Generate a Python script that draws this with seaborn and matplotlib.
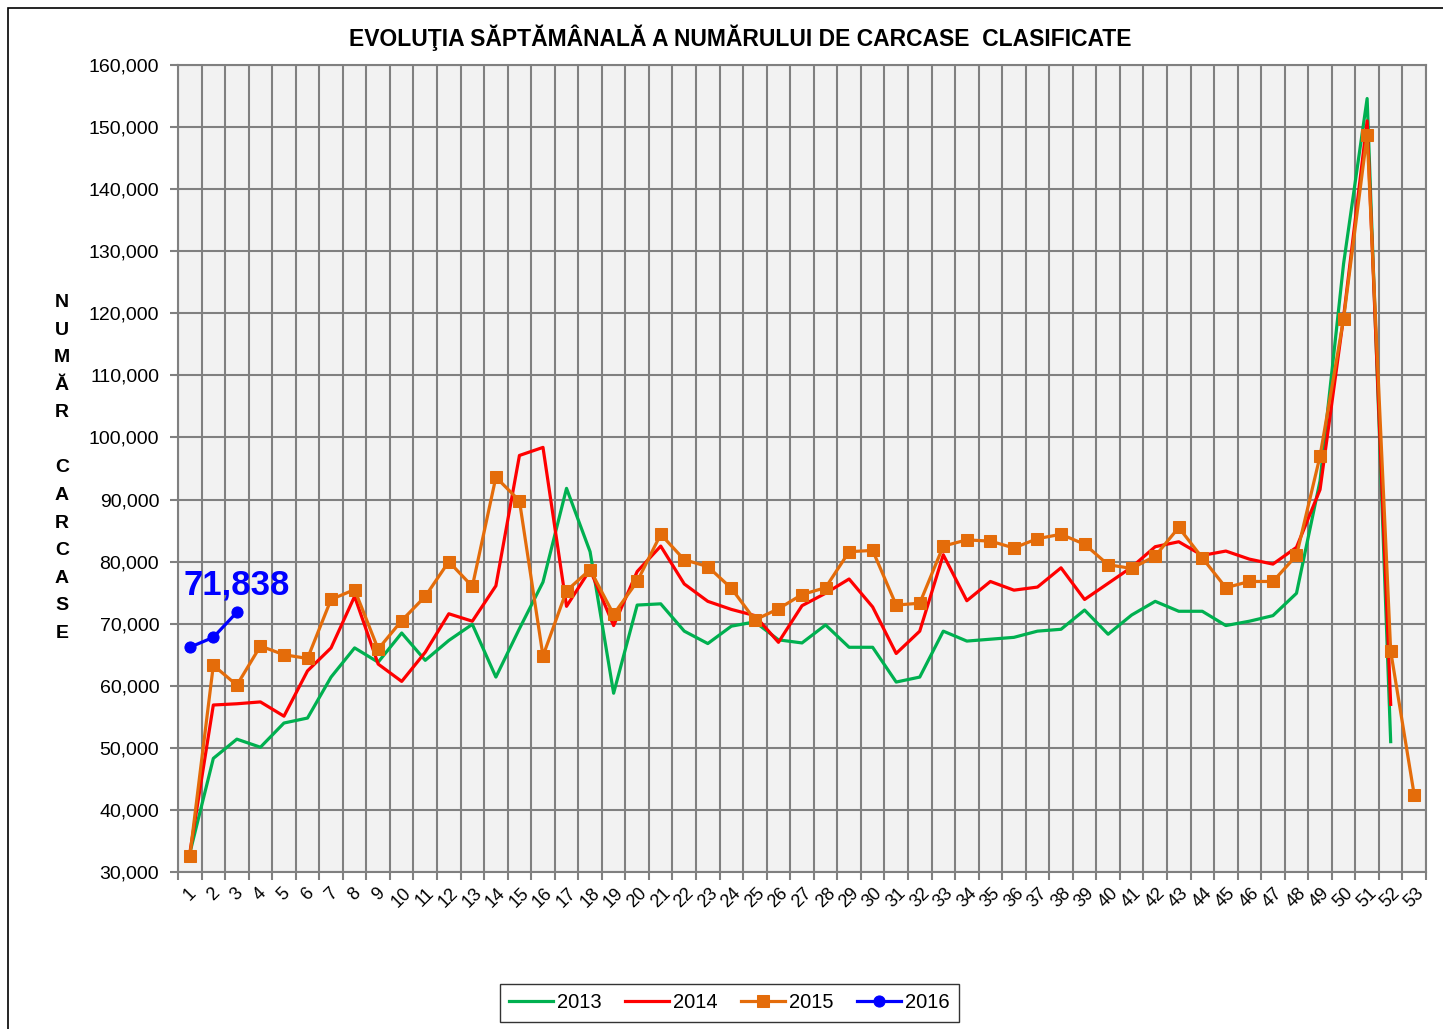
import numpy as np
import pandas as pd
import seaborn as sns
import matplotlib.pyplot as plt
from matplotlib.patches import Rectangle
from matplotlib.ticker import FuncFormatter, MultipleLocator

# weekly number of classified carcasses
weeks = list(range(1, 54))
y2013 = [33000, 48300, 51400, 50100, 54000, 54800, 61400, 66100, 63800, 68500,
         64100, 67300, 69900, 61400, 69200, 76700, 91800, 81600, 58800, 73000,
         73200, 68800, 66800, 69600, 70300, 67400, 66900, 69800, 66200, 66200,
         60600, 61400, 68800, 67200, 67500, 67800, 68800, 69100, 72200, 68300,
         71400, 73600, 72000, 72000, 69700, 70400, 71300, 74900, 93000, 128000,
         154600, 51000]
y2014 = [33000, 56900, 57100, 57400, 55100, 62400, 66100, 74400, 63500, 60700,
         65400, 71600, 70400, 76100, 97100, 98400, 72800, 78700, 69700, 78400,
         82500, 76400, 73600, 72300, 71300, 67000, 72900, 74900, 77200, 72700,
         65200, 68800, 81100, 73700, 76800, 75400, 75900, 79000, 73900, 76500,
         79100, 82400, 83200, 81000, 81700, 80400, 79600, 82300, 91600, 119400,
         151000, 57000]
y2015 = [32500, 63300, 60100, 66400, 65000, 64400, 73900, 75500, 65900, 70500,
         74400, 80000, 76000, 93600, 89800, 64800, 75300, 78700, 71500, 76800,
         84400, 80300, 79200, 75700, 70600, 72400, 74700, 75800, 81600, 81800,
         73000, 73300, 82500, 83500, 83300, 82200, 83700, 84400, 82800, 79500,
         78900, 80900, 85500, 80600, 75800, 76800, 76800, 81000, 97000, 119100,
         148800, 65600, 42400]
y2016 = [66200, 67800, 71838]

series = [("2013", y2013, "#00B050", None),
          ("2014", y2014, "#FF0000", None),
          ("2015", y2015, "#E46C0A", "s"),
          ("2016", y2016, "#0000FF", "o")]

plt.rcParams["font.family"] = ["Liberation Sans", "DejaVu Sans"]

fig = plt.figure(figsize=(14.43, 10.29), dpi=100)
ax = fig.add_axes([178 / 1443, 1 - 872 / 1029, (1426 - 178) / 1443, (872 - 65) / 1029])
ax.set_facecolor("#F2F2F2")

for name, vals, col, mk in series:
    df = pd.DataFrame({"week": weeks[:len(vals)], "n": vals})
    sns.lineplot(data=df, x="week", y="n", ax=ax, color=col, linewidth=2.3,
                 marker=mk, markersize=9 if mk == "s" else 8,
                 markeredgecolor=col, label=name, zorder=3)

ax.annotate(f"{y2016[-1]:,}", (3, y2016[-1]), xytext=(0, 13), textcoords="offset points",
            ha="center", va="baseline", fontsize=25, fontweight="bold", color="#0000FF")

ax.set_xlim(0.5, 53.5)
ax.set_ylim(30000, 160000)
ax.set_xticks(weeks)
ax.set_xticklabels([str(w) for w in weeks], rotation=45, ha="center", fontsize=13)
ax.set_xticks(np.arange(0.5, 54, 1), minor=True)
ax.tick_params(axis="x", which="major", length=0, pad=9)
ax.tick_params(axis="x", which="minor", length=6, color="#808080", width=1.5)
ax.yaxis.set_major_locator(MultipleLocator(10000))
ax.yaxis.set_major_formatter(FuncFormatter(lambda v, p: f"{int(v):,}"))
ax.tick_params(axis="y", labelsize=14, length=6, color="#808080", width=1.5, pad=7.5)
ax.grid(which="minor", axis="x", color="#808080", linewidth=1.5)
ax.grid(which="major", axis="y", color="#808080", linewidth=1.5)
ax.set_axisbelow(True)
for s in ax.spines.values():
    s.set_color("#808080")
    s.set_linewidth(1.5)
ax.set_xlabel("")
ax.set_ylabel("")
ax.get_legend().remove()

fig.text(0.513, 1 - 38 / 1029, "EVOLUŢIA SĂPTĂMÂNALĂ A NUMĂRULUI DE CARCASE  CLASIFICATE",
         ha="center", va="center", fontsize=16.5, fontweight="bold")
fig.text(62 / 1443, 1 - 468 / 1029, "\n".join("NUMĂR CARCASE".replace(" ", "\u00a0")),
         ha="center", va="center", fontsize=14, fontweight="bold", linespacing=1.81)

handles, labels = ax.get_legend_handles_labels()
fig.legend(handles, labels, loc="center", bbox_to_anchor=(729.5 / 1443, 1 - 1003 / 1029),
           ncol=4, fontsize=14.5, frameon=True, fancybox=False, edgecolor="black",
           handlelength=2.2, columnspacing=1.15, borderpad=0.45, handletextpad=0.2)

fig.add_artist(Rectangle((8 / 1443, -0.05), 1.1, 1.05 - 8 / 1029, transform=fig.transFigure,
                         fill=False, edgecolor="black", linewidth=1.2))

fig.savefig("out.png", dpi=100)
